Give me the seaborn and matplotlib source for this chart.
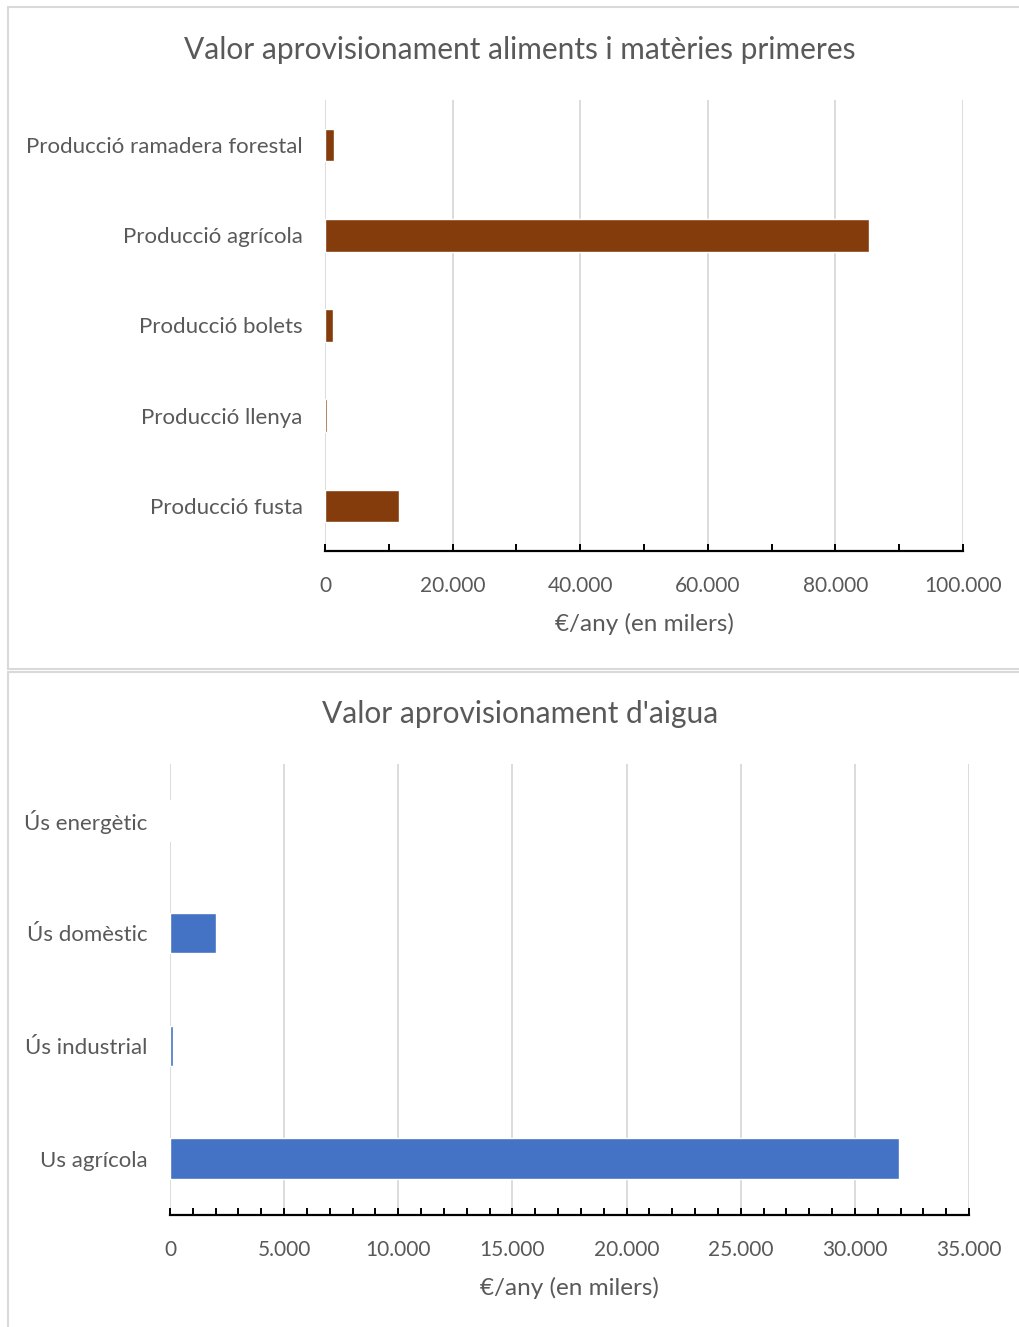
import matplotlib
matplotlib.use("Agg")
import matplotlib.pyplot as plt
from matplotlib.lines import Line2D
from matplotlib.ticker import MultipleLocator, FuncFormatter
import seaborn as sns
import pandas as pd

# ---- data ----
food_categories = ["Producció ramadera forestal", "Producció agrícola", "Producció bolets",
                   "Producció llenya", "Producció fusta"]
food_values = [1400, 85200, 1200, 300, 11600]

water_categories = ["Ús energètic", "Ús domèstic", "Ús industrial", "Us agrícola"]
water_values = [25, 2000, 110, 31950]

title_food = "Valor aprovisionament aliments i matèries primeres"
title_water = "Valor aprovisionament d'aigua"
xlabel = "€/any (en milers)"

sns.set_theme(style="white")
plt.rcParams['font.family'] = ['Lato', 'DejaVu Sans']

W, H = 1020, 1327
fig = plt.figure(figsize=(W / 100, H / 100), dpi=100)
TXT = "#595959"

def px_axes(x0, y0, x1, y1):
    return fig.add_axes([x0 / W, 1 - y1 / H, (x1 - x0) / W, (y1 - y0) / H])

def fmt(v, pos):
    v = int(round(v))
    return f"{v:,}".replace(",", ".")

def style(ax, major, minor, xmax):
    ax.set_xlim(0, xmax)
    ax.xaxis.set_major_locator(MultipleLocator(major))
    ax.xaxis.set_minor_locator(MultipleLocator(minor))
    ax.xaxis.set_major_formatter(FuncFormatter(fmt))
    ax.grid(axis="x", which="major", color="#D9D9D9", lw=1.3)
    ax.set_axisbelow(True)
    for s in ["top", "right", "left"]:
        ax.spines[s].set_visible(False)
    ax.spines["bottom"].set_color("black")
    ax.spines["bottom"].set_linewidth(1.6)
    ax.tick_params(axis="x", which="both", bottom=True, direction="in", length=5,
                   width=1.4, color="black")
    ax.tick_params(axis="x", which="major", labelsize=15, labelcolor=TXT, pad=18)
    ax.tick_params(axis="y", left=False, length=0, labelsize=16, labelcolor=TXT, pad=16)
    ax.set_ylabel("")
    ax.set_xlabel(xlabel, fontsize=17.5, color=TXT, labelpad=12)

# top chart
ax1 = px_axes(325, 100, 963, 551)
df1 = pd.DataFrame({"cat": food_categories, "val": food_values})
sns.barplot(data=df1, y="cat", x="val", orient="h", color="#843C0C", saturation=1,
            width=0.36, ax=ax1)
style(ax1, 20000, 10000, 100000)
fig.text(520 / W, 1 - 50 / H, title_food, fontsize=21.5, color=TXT, ha="center", va="center")

# bottom chart
ax2 = px_axes(170, 764, 969, 1215)
df2 = pd.DataFrame({"cat": water_categories, "val": water_values})
sns.barplot(data=df2, y="cat", x="val", orient="h", color="#4472C4", saturation=1,
            width=0.36, ax=ax2)
style(ax2, 5000, 1000, 35000)
fig.text(520 / W, 1 - 714 / H, title_water, fontsize=21.5, color=TXT, ha="center", va="center")

# panel frames
def hline(y, x0=8, x1=W):
    fig.add_artist(Line2D([x0 / W, x1 / W], [1 - y / H, 1 - y / H], color="#D9D9D9", lw=1.5))
def vline(x, y0, y1):
    fig.add_artist(Line2D([x / W, x / W], [1 - y0 / H, 1 - y1 / H], color="#D9D9D9", lw=1.5))

hline(7)
hline(669)
hline(672)
vline(8, 7, 669)
vline(8, 672, H)

fig.savefig("out.png", dpi=100)
